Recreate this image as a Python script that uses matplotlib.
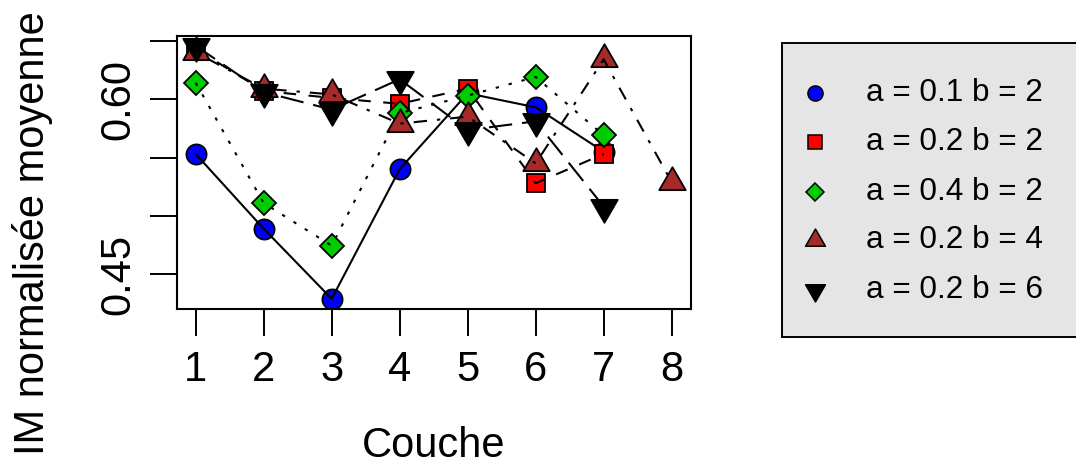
import matplotlib.pyplot as plt
import numpy as np
from matplotlib.path import Path
from matplotlib.patches import Rectangle
from matplotlib.lines import Line2D

plt.rcParams['font.family'] = ['Liberation Sans', 'DejaVu Sans']

# data
couche = [1, 2, 3, 4, 5, 6, 7, 8]
im_a01_b2 = [0.553, 0.489, 0.429, 0.540, 0.605, 0.593, 0.555]
im_a02_b2 = [0.643, 0.607, 0.601, 0.596, 0.609, 0.528, 0.553]
im_a04_b2 = [0.614, 0.511, 0.4745, 0.588, 0.603, 0.619, 0.569]
im_a02_b4 = [0.640, 0.609, 0.604, 0.579, 0.585, 0.545, 0.634, 0.529]
im_a02_b6 = [0.6457, 0.606, 0.591, 0.617, 0.5735, 0.581, 0.508]
labels = ['a = 0.1 b = 2', 'a = 0.2 b = 2', 'a = 0.4 b = 2',
          'a = 0.2 b = 4', 'a = 0.2 b = 6']

# R style triangles (centred on centroid)
tri_up = Path([(0, 1), (-0.866, -0.5), (0.866, -0.5), (0, 1)],
              [Path.MOVETO, Path.LINETO, Path.LINETO, Path.CLOSEPOLY])
tri_dn = Path([(0, -1), (-0.866, 0.5), (0.866, 0.5), (0, -1)],
              [Path.MOVETO, Path.LINETO, Path.LINETO, Path.CLOSEPOLY])

series = [im_a01_b2, im_a02_b2, im_a04_b2, im_a02_b4, im_a02_b6]
markers = ['o', 's', 'D', tri_up, tri_dn]
msizes = [14.5, 12.5, 12.5, 22, 22]
fills = ['#0000ff', '#ff0000', '#00cd00', '#a52a2a', 'black']
dashes = [None, (6, 6), (1.6, 4.8), (1.6, 4.8, 6.4, 4.8), (11.2, 4.8)]

fig = plt.figure(figsize=(10.76, 4.65), dpi=100)
ax = fig.add_axes([0.1642, 0.3348, 0.6419 - 0.1642, 0.9232 - 0.3348])

z = 2
for y, m, ms, fc, d in zip(series, markers, msizes, fills, dashes):
    x = couche[:len(y)]
    ax.plot(x, y, linestyle='none', marker=m, markersize=ms,
            markerfacecolor=fc, markeredgecolor='black',
            markeredgewidth=1.3, zorder=z)
    ln, = ax.plot(x, y, color='black', linewidth=1.5, zorder=z + 1)
    if d is not None:
        ln.set_dashes(d)
    z += 2

ax.set_xlim(0.72, 8.28)
ax.set_ylim(0.4200, 0.6543)
ax.set_xticks(couche)
ax.set_xticklabels([str(c) for c in couche])
ax.set_yticks([0.45, 0.50, 0.55, 0.60, 0.65])
ax.set_yticklabels(['0.45', '', '', '0.60', ''], rotation=90, va='center')
ax.tick_params(labelsize=30, length=19.5, width=1.4, pad=10)
ax.tick_params(axis='y', pad=8)
for s in ax.spines.values():
    s.set_linewidth(1.5)

ax.set_xlabel('Couche', fontsize=30, labelpad=26)
fig.text(0.030, 1 - 233 / 465, 'IM normalisée moyenne', rotation=90,
         fontsize=30, ha='center', va='center')

# legend drawn by hand, box runs off the right edge like the original
W, H = 1076, 465
fig.patches.append(Rectangle((781.7 / W, 1 - 336.7 / H), 0.4, (336.7 - 43.3) / H,
                             transform=fig.transFigure, facecolor='#e5e5e5',
                             edgecolor='black', linewidth=1.4, clip_on=False))
rows = [93.3, 141.7, 191.7, 240, 290]
for yy, m, ms, fc, lab in zip(rows, markers, msizes, fills, labels):
    fig.lines.append(Line2D([815 / W], [1 - yy / H], transform=fig.transFigure,
                            linestyle='none', marker=m, markersize=ms * 0.75,
                            markerfacecolor=fc, markeredgecolor='black',
                            markeredgewidth=1.1))
    fig.text(866 / W, 1 - yy / H, lab, fontsize=22.7, va='center', ha='left')

fig.savefig('out.png', dpi=100)
